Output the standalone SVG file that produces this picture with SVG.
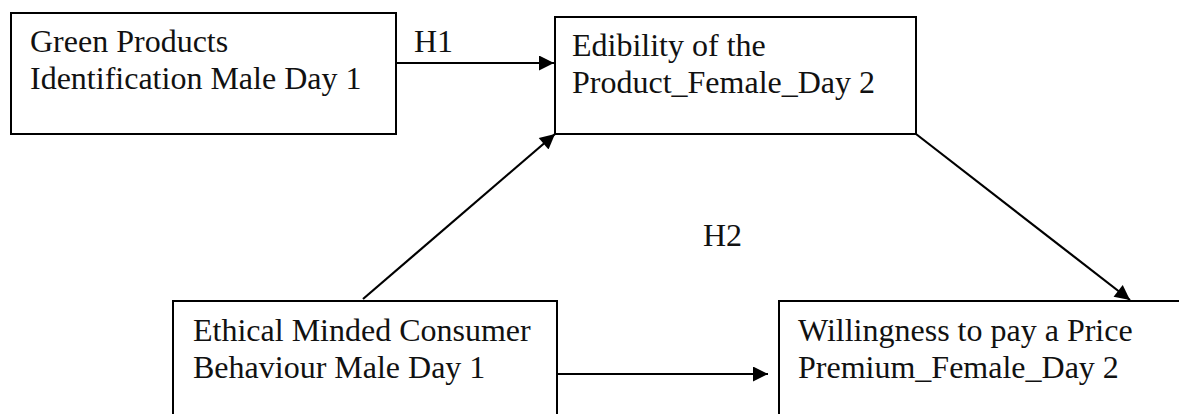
<svg xmlns="http://www.w3.org/2000/svg" width="1179" height="414" viewBox="0 0 1179 414">
<style>
.box{fill:#fff;stroke:#000;stroke-width:2}
.t{font-family:"Liberation Serif","Times New Roman",serif;font-size:32px;fill:#111}
.c{stroke:#000;stroke-width:2.2;fill:none;marker-end:url(#ah)}
</style>
<defs>
<marker id="ah" viewBox="0 0 10 10" refX="10" refY="5" markerWidth="18" markerHeight="15" markerUnits="userSpaceOnUse" orient="auto">
<path d="M0,0 L10,5 L0,10 z" fill="#000"/>
</marker>
</defs>
<rect width="1179" height="414" fill="#fff"/>
<g id="n1">
<rect class="box" x="11" y="13" width="385" height="121"/>
<text class="t" x="30" y="52">Green Products</text>
<text class="t" x="30" y="89">Identification Male Day 1</text>
</g>
<g id="n2">
<rect class="box" x="555" y="17" width="361" height="117"/>
<text class="t" x="572" y="56">Edibility of the</text>
<text class="t" x="572" y="93">Product_Female_Day 2</text>
</g>
<g id="n3">
<rect class="box" x="173" y="301" width="384" height="130"/>
<text class="t" x="193" y="341">Ethical Minded Consumer</text>
<text class="t" x="193" y="378">Behaviour Male Day 1</text>
</g>
<g id="n4">
<rect class="box" x="779" y="301" width="410" height="130"/>
<text class="t" x="798" y="341">Willingness to pay a Price</text>
<text class="t" x="798" y="378">Premium_Female_Day 2</text>
</g>
<g id="connectors">
<line class="c" x1="396" y1="63" x2="554" y2="63"/>
<line class="c" x1="363" y1="299" x2="555" y2="134"/>
<line class="c" x1="916" y1="134" x2="1130" y2="300"/>
<line class="c" x1="557" y1="374" x2="768" y2="374"/>
<text class="t" x="414" y="52">H1</text>
<text class="t" x="703" y="246">H2</text>
</g>
</svg>
